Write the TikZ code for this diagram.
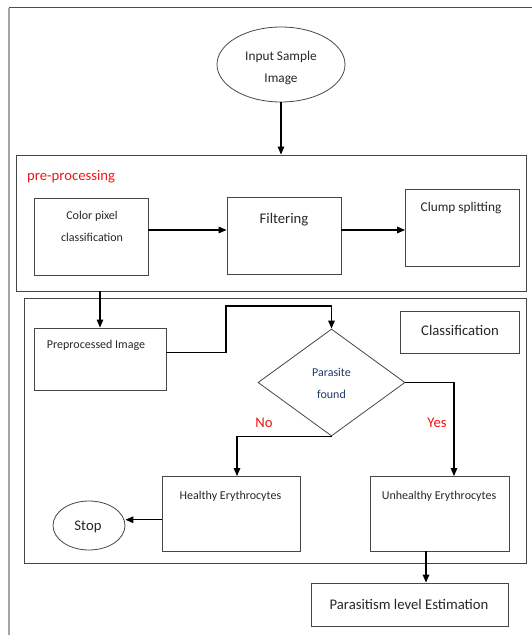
\documentclass[tikz,border=0pt]{standalone}
\usepackage{fontspec}
\setmainfont{Carlito}
\usetikzlibrary{arrows.meta,shapes.geometric}
\definecolor{navy}{RGB}{31,56,100}
\definecolor{redtxt}{RGB}{240,20,20}
\definecolor{linec}{RGB}{70,70,70}
\begin{document}
\begin{tikzpicture}[x=1pt,y=-1pt,
  box/.style={draw=linec, line width=0.8pt, rectangle, inner sep=0pt},
  frame/.style={draw=linec, line width=0.8pt, rectangle, inner sep=0pt},
  oval/.style={draw=linec, line width=0.8pt, ellipse, inner sep=0pt},
  dia/.style={draw=linec, line width=0.8pt, diamond, inner sep=0pt},
  small/.style={font=\fontsize{12}{22}\selectfont, text=black!85, align=center, inner sep=0pt},
  mid/.style={font=\fontsize{13.3}{22}\selectfont, text=black!85, align=center, inner sep=0pt},
  big/.style={font=\fontsize{14.7}{22}\selectfont, text=black!85, align=center, inner sep=0pt},
  redl/.style={font=\fontsize{14.7}{22}\selectfont, text=redtxt, inner sep=0pt},
  arr/.style={line width=1.3pt, draw=black, -{Triangle[length=8pt,width=6.5pt]}},
  ln/.style={line width=1.3pt, draw=black}]
\useasboundingbox (0,0) rectangle (532,635);
% outer page frame
\draw[line width=1.5pt, draw=black!70] (9,7.5) -- (532,7.5);
\draw[line width=1.2pt, draw=black!35] (9,7.5) -- (9,635);

% input
\node[oval, minimum width=128pt, minimum height=75pt] (in) at (281,64.5) {};
\node[mid] (inT) at (281,68) {Input Sample\\Image};

% pre-processing frame
\node[frame, minimum width=510pt, minimum height=136pt] (pre) at (271,223) {};
\node[redl, anchor=west] (preT) at (27,177) {pre-processing};

\node[box, minimum width=114pt, minimum height=77pt] (cpc) at (91,236.5) {};
\node[small] (cpcT) at (92,226.7) {Color pixel\\classification};
\node[box, minimum width=114pt, minimum height=77pt] (flt) at (284,236) {};
\node[big] (fltT) at (284,219.6) {Filtering};
\node[box, minimum width=113.5pt, minimum height=77pt] (clp) at (462.25,227.5) {};
\node[mid] (clpT) at (461,207.7) {Clump splitting};

% classification frame
\node[frame, minimum width=501.7pt, minimum height=265pt] (cf) at (275.6,431) {};
\node[box, minimum width=132pt, minimum height=62pt] (pp) at (100,359) {};
\node[small] (ppT) at (96,345) {Preprocessed Image};
\node[dia, minimum width=147pt, minimum height=107pt] (dm) at (331.5,382.5) {};
\node[small, text=navy] (dmT) at (331.5,383) {Parasite\\found};
\node[box, minimum width=119pt, minimum height=42.5pt] (cls) at (459.5,332.25) {};
\node[big] (clsT) at (460,330.5) {Classification};
\node[box, minimum width=138pt, minimum height=74.5pt] (he) at (231,513.75) {};
\node[small] (heT) at (230.5,496) {Healthy Erythrocytes};
\node[box, minimum width=138.5pt, minimum height=74.5pt] (uh) at (439.75,513.75) {};
\node[small] (uhT) at (439,496) {Unhealthy Erythrocytes};
\node[oval, minimum width=72pt, minimum height=49pt] (stop) at (89,525.5) {};
\node[big] (stopT) at (88,527) {Stop};
\node[redl] (no) at (264,423) {No};
\node[redl] (yes) at (437,423) {Yes};

% estimation
\node[box, minimum width=197pt, minimum height=43pt] (est) at (409.5,604.5) {};
\node[big] (estT) at (409,604.4) {Parasitism level Estimation};

% connectors
\draw[arr] (in.south) -- (in.south |- pre.north);
\draw[arr] ([yshift=6.5pt]cpc.east) -- ([yshift=6.5pt]cpc.east -| flt.west);
\draw[arr] ([yshift=6pt]flt.east) -- ([yshift=6pt]flt.east -| clp.west);
\draw[arr] (pre.south -| pp.north) -- (pp.north);
\coordinate (j1) at (226,306);
\draw[arr] ([yshift=6.2pt]pp.east) -| (j1) -| (dm.north);
\draw[arr] (dm.south) -| ([xshift=6pt]he.north);
\draw[arr] (dm.east) -| ([xshift=14.25pt]uh.north);
\draw[arr] ([yshift=-6pt]he.west) -- ([yshift=-6pt]he.west -| stop.east);
\draw[arr] ([xshift=-13.75pt]uh.south) -- ([xshift=-13.75pt]uh.south |- est.north);
\end{tikzpicture}
\end{document}
